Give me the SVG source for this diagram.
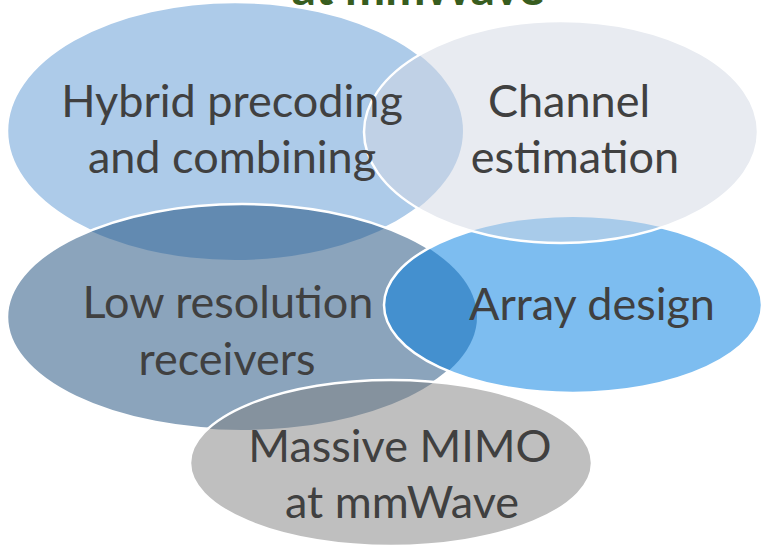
<svg xmlns="http://www.w3.org/2000/svg" width="768" height="549" viewBox="0 0 768 549">
<style>
.lbl{font-family:Lato,"Open Sans","Liberation Sans",sans-serif;font-size:45px;fill:#404040;text-anchor:middle}
.title{font-family:Lato,"Liberation Sans",sans-serif;font-size:48px;font-weight:bold;fill:#385D1F;text-anchor:middle}
.edge{fill:none;stroke:#FFFFFF;stroke-width:2.5}
</style>
<defs>
<mask id="m-hybrid" maskUnits="userSpaceOnUse" x="0" y="0" width="768" height="549">
<rect x="0" y="0" width="768" height="549" fill="#fff"/>
<ellipse cx="242" cy="317" rx="235" ry="113" fill="#000"/>
<ellipse cx="561" cy="132" rx="197" ry="111" fill="#000"/>
</mask>
<mask id="m-low" maskUnits="userSpaceOnUse" x="0" y="0" width="768" height="549">
<rect x="0" y="0" width="768" height="549" fill="#fff"/>
<ellipse cx="573" cy="305" rx="189" ry="88" fill="#000"/>
<ellipse cx="561" cy="132" rx="197" ry="111" fill="#000"/>
<ellipse cx="391" cy="463" rx="201" ry="83" fill="#000"/>
</mask>
<mask id="m-array" maskUnits="userSpaceOnUse" x="0" y="0" width="768" height="549">
<rect x="0" y="0" width="768" height="549" fill="#fff"/>
<ellipse cx="561" cy="132" rx="197" ry="111" fill="#000"/>
<ellipse cx="391" cy="463" rx="201" ry="83" fill="#000"/>
</mask>
<mask id="m-channel" maskUnits="userSpaceOnUse" x="0" y="0" width="768" height="549">
<rect x="0" y="0" width="768" height="549" fill="#fff"/>
<ellipse cx="391" cy="463" rx="201" ry="83" fill="#000"/>
</mask>
</defs>
<rect x="0" y="0" width="768" height="549" fill="#FFFFFF"/>
<text class="title" x="418" y="5">at mmWave</text>
<g id="node-hybrid">
<ellipse cx="235" cy="131" rx="228" ry="129" fill="#5B97D3" fill-opacity="0.5"/>
<ellipse class="edge" cx="235" cy="131" rx="228" ry="129" mask="url(#m-hybrid)"/>
</g>
<g id="node-low">
<ellipse cx="242" cy="317" rx="235" ry="113" fill="#174979" fill-opacity="0.5"/>
<ellipse class="edge" cx="242" cy="317" rx="235" ry="113" mask="url(#m-low)"/>
</g>
<g id="node-array">
<ellipse cx="573" cy="305" rx="189" ry="88" fill="#007DE1" fill-opacity="0.51"/>
<ellipse class="edge" cx="573" cy="305" rx="189" ry="88" mask="url(#m-array)"/>
</g>
<g id="node-channel">
<ellipse cx="561" cy="132" rx="197" ry="111" fill="#D2D8E4" fill-opacity="0.51"/>
<ellipse class="edge" cx="561" cy="132" rx="197" ry="111" mask="url(#m-channel)"/>
</g>
<g id="node-massive">
<ellipse cx="391" cy="463" rx="201" ry="83" fill="#808080" fill-opacity="0.5"/>
<ellipse class="edge" cx="391" cy="463" rx="201" ry="83"/>
</g>
<g id="connectors"></g>
<g id="label-hybrid"><text class="lbl" x="232" y="117">Hybrid precoding</text><text class="lbl" x="232" y="173">and combining</text></g>
<g id="label-channel"><text class="lbl" x="569" y="117">Channel</text><text class="lbl" x="575" y="173">estimation</text></g>
<g id="label-low"><text class="lbl" x="228" y="318">Low resolution</text><text class="lbl" x="227" y="375">receivers</text></g>
<g id="label-array"><text class="lbl" x="592" y="320">Array design</text></g>
<g id="label-massive"><text class="lbl" x="400" y="462">Massive MIMO</text><text class="lbl" x="402" y="518">at mmWave</text></g>
</svg>
